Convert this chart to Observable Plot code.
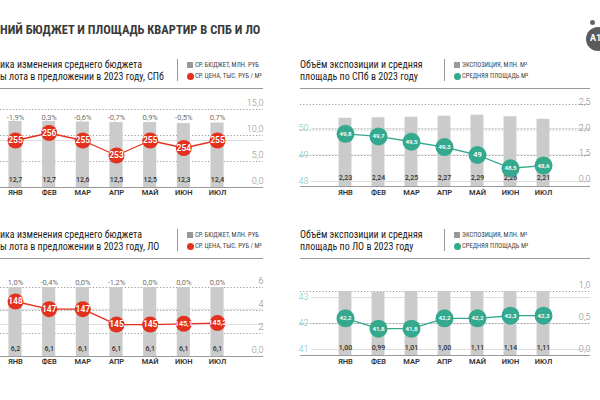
<!DOCTYPE html>
<html><head><meta charset="utf-8">
<script src="https://cdn.jsdelivr.net/npm/d3@7"></script>
<script src="https://cdn.jsdelivr.net/npm/@observablehq/plot@0.6"></script>
<style>
body{margin:0;background:#fff;}
#root{position:relative;width:600px;height:400px;overflow:hidden;background:#fff;font-family:'Liberation Sans Narrow','Roboto Condensed','DejaVu Sans Condensed',sans-serif;color:#333;}
.abs{position:absolute;white-space:nowrap;}
.layer{position:absolute;width:300px;height:112px;}
.title{font-size:12.5px;font-weight:bold;color:#3a3a3a;line-height:16px;}
.sub{font-size:10.5px;color:#222;line-height:12px;transform:scaleX(0.95);transform-origin:0 0;}
.leg{font-size:6.6px;color:#444;line-height:8px;}
.sep{position:absolute;width:1px;background:#999;}
.rule{position:absolute;height:1px;background:#9a9a9a;}
.sq{position:absolute;width:6px;height:6px;background:#999;}
.ci{position:absolute;width:7px;height:7px;border-radius:50%;}
</style></head><body><div id="root"></div>
<script>
const months = ["ЯНВ","ФЕВ","МАР","АПР","МАЙ","ИЮН","ИЮЛ"];
// СПб
const spbBudget = [12.7,12.7,12.6,12.5,12.5,12.3,12.4];
const spbChange = [-1.9,0.3,-0.6,-0.7,0.9,-0.5,0.7];
const spbPrice = [255,256,255,253,255,254,255];
const spbExpo = [2.23,2.24,2.25,2.27,2.29,2.26,2.21];
const spbArea = [49.8,49.7,49.5,49.3,49.0,48.5,48.6];
// ЛО
const loBudget = [6.2,6.1,6.1,6.1,6.1,6.1,6.1];
const loChange = [1.0,-0.4,0.0,-1.2,0.0,0.0,0.0];
const loPrice = [148,147,147,145,145,145.1,145.2];
const loExpo = [1.00,0.99,1.01,1.00,1.11,1.14,1.11];
const loArea = [42.2,41.8,41.8,42.2,42.2,42.3,42.3];

const RED = "#e2321e", TEAL = "#34a98d", BAR = "#cbcbcb";
const FONT = "Roboto, 'Liberation Sans', sans-serif";
const fmt = (v, d) => v.toFixed(d).replace(".", ",");
const smart = v => Number.isInteger(v) ? String(v) : fmt(v, 1);
const root = document.getElementById("root");

function div(cls, left, top, html, extra) {
  const d = document.createElement("div");
  d.className = cls; d.style.left = left + "px"; d.style.top = top + "px";
  if (html != null) d.innerHTML = html;
  if (extra) Object.assign(d.style, extra);
  root.appendChild(d); return d;
}
function place(svg, left, top) {
  const d = div("layer", left, top);
  d.appendChild(svg);
}
const baseStyle = {background: "transparent", fontFamily: FONT, overflow: "visible"};

function header(x0, y0, lines, sepX, legA, legB, markColor, ruleW) {
  div("abs sub", x0, y0 - 6.5, lines[0]);
  div("abs sub", x0, y0 + 6, lines[1]);
  div("sep", sepX, y0 - 6, null, {height: "22px"});
  div("sq", sepX + 10, y0 - 3);
  div("abs leg", sepX + 18, y0 - 4, legA);
  div("ci", sepX + 9.5, y0 + 8, null, {background: markColor});
  div("abs leg", sepX + 18, y0 + 7, legB);
  div("rule", x0, y0 + 23, null, {width: ruleW + "px"});
}

function panel(o) {
  const data = months.map((m, i) => ({m, v: o.bars[i], p: o.line[i], pct: o.pct ? o.pct[i] : null}));
  const xs = {domain: months, range: o.xRange, paddingInner: 0.61, paddingOuter: 0.305, round: false, axis: null};
  // layer A: gridlines of the line scale (+ left axis)
  const aMarks = [Plot.ruleY(o.lineGrid, {stroke: "#dedede"})];
  if (o.leftAxis) aMarks.push(Plot.axisY({anchor: "left", label: null, ticks: o.lineGrid, tickSize: 0, tickPadding: 3, tickFormat: d => String(d), fill: "#7fc9b6", fontSize: 9, fontWeight: 300}));
  place(Plot.plot({width: 300, height: 112, marginLeft: o.leftAxis ? 11 : 0, marginRight: o.mr, marginTop: 0, marginBottom: 0,
    y: {domain: o.lineDomain, range: o.lineRange, axis: null}, style: baseStyle, marks: aMarks}), o.left, o.top);
  // layer B: bars
  const bMarks = [
    Plot.gridY(o.grid, {stroke: "#9a9a9a", strokeOpacity: 1, strokeDasharray: "1.2,2"}),
    Plot.barY(data, {x: "m", y: "v", fill: BAR}),
    Plot.ruleY([0], {stroke: "#9a9a9a"}),
    Plot.axisX({anchor: "bottom", label: null, tickSize: 0, tickPadding: o.monthPad, fontSize: 7.5, fontWeight: 600, fill: "#333"}),
    Plot.text(data, {x: "m", text: d => fmt(d.v, o.barDec), frameAnchor: "bottom", dy: o.barDy, fontSize: 7, fontWeight: 500, fill: "#333"})
  ];
  for (const t of o.ticks) bMarks.push(Plot.axisY({anchor: "right", label: null, ticks: t.values, tickSize: 0, tickPadding: 0, textAnchor: "end", dy: t.dy, tickFormat: o.tickFormat, fill: "#8a8a8a", fontSize: 9, fontWeight: 300}));
  if (o.pct) bMarks.push(Plot.text(data, {x: "m", text: d => fmt(d.pct, 1) + "%", frameAnchor: "top", dy: o.pctDy, fontSize: 7.5, fill: "#707070"}));
  place(Plot.plot({width: 300, height: 112, marginLeft: 0, marginRight: o.mr, marginTop: o.mt, marginBottom: o.mb,
    x: xs, y: {domain: o.barDomain, clamp: true, axis: null}, style: baseStyle, marks: bMarks}), o.left, o.top);
  // layer C: line + circles
  place(Plot.plot({width: 300, height: 112, margin: 0, x: xs,
    y: {domain: o.lineDomain, range: o.lineRange, axis: null}, style: baseStyle,
    marks: [
      Plot.line(data, {x: "m", y: "p", stroke: o.color, strokeWidth: 1.3}),
      Plot.dot(data, {x: "m", y: "p", r: o.r, fill: o.color, stroke: "none"}),
      Plot.text(data, {x: "m", y: "p", text: d => smart(d.p), fill: "white",
        fontSize: d => Number.isInteger(d.p) ? o.labelSize : o.labelSize - 1.3, fontWeight: 600})
    ]}), o.left, o.top);
}

// Title and logo
div("abs title", 0, 22, "НИЙ БЮДЖЕТ И ПЛОЩАДЬ КВАРТИР В СПБ И ЛО");
div("abs", 586, 27, "<span style='position:absolute;left:4px;top:6px;font:bold 9px Roboto,sans-serif;color:#fff'>A1</span>", {width: "24px", height: "24px", borderRadius: "50%", background: "#5b5b5b"});
div("abs", 590, 20, null, {width: "5px", height: "5px", borderRadius: "50%", background: "#666"});

// Headers
header(0, 65, ["ика изменения среднего бюджета", "ы лота в предложении в 2023 году, СПб"], 177, "СР. БЮДЖЕТ, МЛН. РУБ", "СР. ЦЕНА, ТЫС. РУБ / М²", RED, 263);
header(300, 65, ["Объём экспозиции и средняя", "площадь по СПб в 2023 году"], 444, "ЭКСПОЗИЦИЯ, МЛН. М²", "СРЕДНЯЯ ПЛОЩАДЬ  М²", TEAL, 290);
header(0, 235, ["ика изменения среднего бюджета", "ы лота в предложении в 2023 году, ЛО"], 177, "СР. БЮДЖЕТ, МЛН. РУБ", "СР. ЦЕНА, ТЫС. РУБ / М²", RED, 263);
header(300, 235, ["Объём экспозиции и средняя", "площадь по ЛО в 2023 году"], 444, "ЭКСПОЗИЦИЯ, МЛН. М²", "СРЕДНЯЯ ПЛОЩАДЬ  М²", TEAL, 290);

// Panel 1: СПб budget
panel({left: 0, top: 90, bars: spbBudget, line: spbPrice, pct: spbChange, color: RED, r: 8, labelSize: 8.5,
  xRange: [-1.83, 233.83], mr: 37, mt: 19, mb: 15, barDomain: [0, 15],
  grid: [5, 10, 15], ticks: [{values: [0, 5, 10, 15], dy: -6}], tickFormat: d => fmt(d, 1),
  barDec: 1, barDy: -6, pctDy: 5, monthPad: 2.5,
  lineDomain: [250, 260], lineRange: [87.5, 12.5], lineGrid: [255], leftAxis: false});

// Panel 2: СПб exposure (broken axis: bars clamped at the bottom)
panel({left: 300, top: 90, bars: spbExpo, line: spbArea, pct: null, color: TEAL, r: 9, labelSize: 7.5,
  xRange: [28.5, 259.5], mr: 10, mt: 14, mb: 16, barDomain: [0.892, 2.5],
  grid: [1.5, 2, 2.5], ticks: [{values: [1.5, 2, 2.5], dy: -2}, {values: [0], dy: -7}], tickFormat: d => fmt(d, 1),
  barDec: 2, barDy: -7, monthPad: 3,
  lineDomain: [48, 50], lineRange: [91, 38], lineGrid: [48, 49, 50], leftAxis: true});

// Panel 3: ЛО budget
panel({left: 0, top: 258, bars: loBudget, line: loPrice, pct: loChange, color: RED, r: 8, labelSize: 8.5,
  xRange: [-1.83, 233.83], mr: 37, mt: 29, mb: 14, barDomain: [0, 6],
  grid: [2, 4, 6], ticks: [{values: [0, 2, 4, 6], dy: -6}], tickFormat: d => d === 0 ? "0,0" : String(d),
  barDec: 1, barDy: -6, pctDy: -8, monthPad: 2.5,
  lineDomain: [140, 150], lineRange: [104.6, 27.6], lineGrid: [145, 147], leftAxis: false});

// Panel 4: ЛО exposure
panel({left: 300, top: 258, bars: loExpo, line: loArea, pct: null, color: TEAL, r: 9, labelSize: 7.5,
  xRange: [28.5, 259.5], mr: 10, mt: 33, mb: 15, barDomain: [0, 1],
  grid: [0.5, 1], ticks: [{values: [0, 0.5, 1], dy: -6}], tickFormat: d => fmt(d, 1),
  barDec: 2, barDy: -6, monthPad: 3,
  lineDomain: [41, 43], lineRange: [91, 39], lineGrid: [41, 42, 43], leftAxis: true});
</script></body></html>
